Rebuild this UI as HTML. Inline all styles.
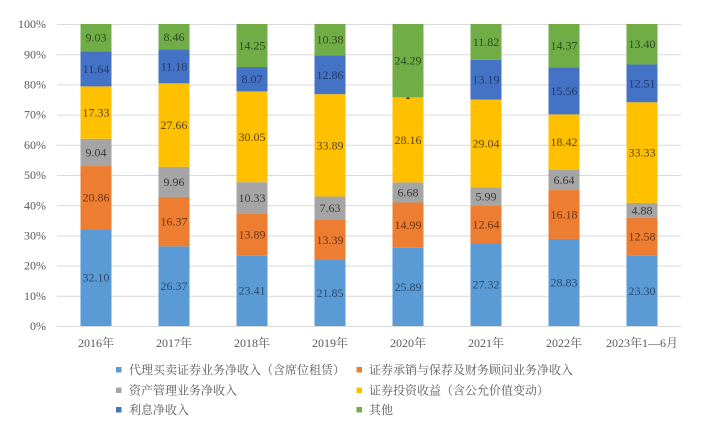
<!DOCTYPE html>
<html>
<head>
<meta charset="utf-8">
<style>
html,body{margin:0;padding:0;background:#fff;}
svg{display:block;}
text{font-family:"Liberation Serif","Noto Serif CJK SC",serif;}
</style>
</head>
<body>
<svg width="720" height="427" viewBox="0 0 720 427" xmlns="http://www.w3.org/2000/svg">
<rect width="720" height="427" fill="#fff"/>
<!-- gridlines -->
<g stroke="#d9d9d9" stroke-width="1">
<line x1="57" y1="24.5" x2="681" y2="24.5"/>
<line x1="57" y1="54.7" x2="681" y2="54.7"/>
<line x1="57" y1="84.9" x2="681" y2="84.9"/>
<line x1="57" y1="115.1" x2="681" y2="115.1"/>
<line x1="57" y1="145.3" x2="681" y2="145.3"/>
<line x1="57" y1="175.5" x2="681" y2="175.5"/>
<line x1="57" y1="205.7" x2="681" y2="205.7"/>
<line x1="57" y1="235.9" x2="681" y2="235.9"/>
<line x1="57" y1="266.1" x2="681" y2="266.1"/>
<line x1="57" y1="296.3" x2="681" y2="296.3"/>
<line x1="57" y1="326.5" x2="681" y2="326.5"/>
</g>
<!-- y labels -->
<g font-size="12" fill="#595959" text-anchor="end">
<text x="46" y="28">100%</text>
<text x="46" y="58.5">90%</text>
<text x="46" y="88.5">80%</text>
<text x="46" y="118.5">70%</text>
<text x="46" y="149">60%</text>
<text x="46" y="179">50%</text>
<text x="46" y="209.5">40%</text>
<text x="46" y="239.5">30%</text>
<text x="46" y="269.5">20%</text>
<text x="46" y="300">10%</text>
<text x="46" y="330">0%</text>
</g>
<!-- bars -->
<g>
<!-- 2016 x=80.5 -->
<rect x="80.5" y="229.06" width="31" height="96.94" fill="#5b9bd5"/>
<rect x="80.5" y="166.06" width="31" height="63" fill="#ed7d31"/>
<rect x="80.5" y="138.76" width="31" height="27.3" fill="#a5a5a5"/>
<rect x="80.5" y="86.42" width="31" height="52.34" fill="#ffc000"/>
<rect x="80.5" y="51.27" width="31" height="35.15" fill="#4472c4"/>
<rect x="80.5" y="24" width="31" height="27.27" fill="#70ad47"/>
<!-- 2017 x=158.5 -->
<rect x="158.5" y="246.36" width="31" height="79.64" fill="#5b9bd5"/>
<rect x="158.5" y="196.93" width="31" height="49.43" fill="#ed7d31"/>
<rect x="158.5" y="166.85" width="31" height="30.08" fill="#a5a5a5"/>
<rect x="158.5" y="83.31" width="31" height="83.54" fill="#ffc000"/>
<rect x="158.5" y="49.55" width="31" height="33.76" fill="#4472c4"/>
<rect x="158.5" y="24" width="31" height="25.55" fill="#70ad47"/>
<!-- 2018 x=236.5 -->
<rect x="236.5" y="255.3" width="31" height="70.7" fill="#5b9bd5"/>
<rect x="236.5" y="213.35" width="31" height="41.95" fill="#ed7d31"/>
<rect x="236.5" y="182.16" width="31" height="31.19" fill="#a5a5a5"/>
<rect x="236.5" y="91.41" width="31" height="90.75" fill="#ffc000"/>
<rect x="236.5" y="67.03" width="31" height="24.38" fill="#4472c4"/>
<rect x="236.5" y="24" width="31" height="43.03" fill="#70ad47"/>
<!-- 2019 x=314.5 -->
<rect x="314.5" y="260.01" width="31" height="65.99" fill="#5b9bd5"/>
<rect x="314.5" y="219.58" width="31" height="40.43" fill="#ed7d31"/>
<rect x="314.5" y="196.53" width="31" height="23.05" fill="#a5a5a5"/>
<rect x="314.5" y="94.18" width="31" height="102.35" fill="#ffc000"/>
<rect x="314.5" y="55.35" width="31" height="38.83" fill="#4472c4"/>
<rect x="314.5" y="24" width="31" height="31.35" fill="#70ad47"/>
<!-- 2020 x=392.5 -->
<rect x="392.5" y="247.81" width="31" height="78.19" fill="#5b9bd5"/>
<rect x="392.5" y="202.54" width="31" height="45.27" fill="#ed7d31"/>
<rect x="392.5" y="182.37" width="31" height="20.17" fill="#a5a5a5"/>
<rect x="392.5" y="97.33" width="31" height="85.04" fill="#ffc000"/>
<rect x="392.5" y="24" width="31" height="73.33" fill="#70ad47"/>
<!-- 2021 x=470.5 -->
<rect x="470.5" y="243.49" width="31" height="82.51" fill="#5b9bd5"/>
<rect x="470.5" y="205.32" width="31" height="38.17" fill="#ed7d31"/>
<rect x="470.5" y="187.23" width="31" height="18.09" fill="#a5a5a5"/>
<rect x="470.5" y="99.53" width="31" height="87.7" fill="#ffc000"/>
<rect x="470.5" y="59.7" width="31" height="39.83" fill="#4472c4"/>
<rect x="470.5" y="24" width="31" height="35.7" fill="#70ad47"/>
<!-- 2022 x=548.5 -->
<rect x="548.5" y="238.93" width="31" height="87.07" fill="#5b9bd5"/>
<rect x="548.5" y="190.07" width="31" height="48.86" fill="#ed7d31"/>
<rect x="548.5" y="170.02" width="31" height="20.05" fill="#a5a5a5"/>
<rect x="548.5" y="114.39" width="31" height="55.63" fill="#ffc000"/>
<rect x="548.5" y="67.4" width="31" height="46.99" fill="#4472c4"/>
<rect x="548.5" y="24" width="31" height="43.4" fill="#70ad47"/>
<!-- 2023 x=626.5 -->
<rect x="626.5" y="255.63" width="31" height="70.37" fill="#5b9bd5"/>
<rect x="626.5" y="217.64" width="31" height="37.99" fill="#ed7d31"/>
<rect x="626.5" y="202.9" width="31" height="14.74" fill="#a5a5a5"/>
<rect x="626.5" y="102.25" width="31" height="100.65" fill="#ffc000"/>
<rect x="626.5" y="64.47" width="31" height="37.78" fill="#4472c4"/>
<rect x="626.5" y="24" width="31" height="40.47" fill="#70ad47"/>
</g>
<!-- data labels -->
<g font-size="12" text-anchor="middle">
<g fill="#2c4a6c">
<text x="96" y="281.5">32.10</text>
<text x="174" y="290.2">26.37</text>
<text x="252" y="294.6">23.41</text>
<text x="330" y="297">21.85</text>
<text x="408" y="290.9">25.89</text>
<text x="486" y="288.7">27.32</text>
<text x="564" y="286.5">28.83</text>
<text x="642" y="294.8">23.30</text>
</g>
<g fill="#6b3515">
<text x="96" y="201.6">20.86</text>
<text x="174" y="225.6">16.37</text>
<text x="252" y="238.3">13.89</text>
<text x="330" y="243.8">13.39</text>
<text x="408" y="229.2">14.99</text>
<text x="486" y="228.4">12.64</text>
<text x="564" y="218.5">16.18</text>
<text x="642" y="240.6">12.58</text>
</g>
<g fill="#3a3a3a">
<text x="96" y="156.4">9.04</text>
<text x="174" y="185.9">9.96</text>
<text x="252" y="201.8">10.33</text>
<text x="330" y="212.1">7.63</text>
<text x="408" y="196.5">6.68</text>
<text x="486" y="200.3">5.99</text>
<text x="564" y="184">6.64</text>
<text x="642" y="214.3">4.88</text>
</g>
<g fill="#5a4510">
<text x="96" y="116.6">17.33</text>
<text x="174" y="129.1">27.66</text>
<text x="252" y="140.8">30.05</text>
<text x="330" y="149.4">33.89</text>
<text x="408" y="143.9">28.16</text>
<text x="486" y="147.4">29.04</text>
<text x="564" y="146.2">18.42</text>
<text x="642" y="156.6">33.33</text>
</g>
<g fill="#23396a">
<text x="96" y="72.8">11.64</text>
<text x="174" y="70.4">11.18</text>
<text x="252" y="83.2">8.07</text>
<text x="330" y="78.8">12.86</text>
<text x="486" y="83.6">13.19</text>
<text x="564" y="94.9">15.56</text>
<text x="642" y="87.4">12.51</text>
</g>
<g fill="#2f4a22">
<text x="96" y="41.6">9.03</text>
<text x="174" y="40.8">8.46</text>
<text x="252" y="49.5">14.25</text>
<text x="330" y="43.7">10.38</text>
<text x="408" y="64.7">24.29</text>
<text x="486" y="45.9">11.82</text>
<text x="564" y="49.7">14.37</text>
<text x="642" y="48.2">13.40</text>
</g>
</g>
<rect x="406.5" y="97.5" width="3" height="1.5" fill="#333"/>
<!-- x labels -->
<g font-size="12" fill="#595959" text-anchor="middle">
<text x="96" y="347">2016年</text>
<text x="174" y="347">2017年</text>
<text x="252" y="347">2018年</text>
<text x="330" y="347">2019年</text>
<text x="408" y="347">2020年</text>
<text x="486" y="347">2021年</text>
<text x="564" y="347">2022年</text>
<text x="642" y="347">2023年1—6月</text>
</g>
<!-- legend -->
<g font-size="12" fill="#595959">
<rect x="116" y="367" width="5.5" height="5.5" fill="#5b9bd5"/>
<text x="129" y="374">代理买卖证券业务净收入（含席位租赁）</text>
<rect x="356.5" y="367" width="5.5" height="5.5" fill="#ed7d31"/>
<text x="369" y="374">证券承销与保荐及财务顾问业务净收入</text>
<rect x="116" y="387.5" width="5.5" height="5.5" fill="#a5a5a5"/>
<text x="129" y="394.5">资产管理业务净收入</text>
<rect x="356.5" y="387.5" width="5.5" height="5.5" fill="#ffc000"/>
<text x="369" y="394.5">证券投资收益（含公允价值变动）</text>
<rect x="116" y="407" width="5.5" height="5.5" fill="#4472c4"/>
<text x="129" y="414">利息净收入</text>
<rect x="356.5" y="407" width="5.5" height="5.5" fill="#70ad47"/>
<text x="369" y="414">其他</text>
</g>
</svg>
</body>
</html>
